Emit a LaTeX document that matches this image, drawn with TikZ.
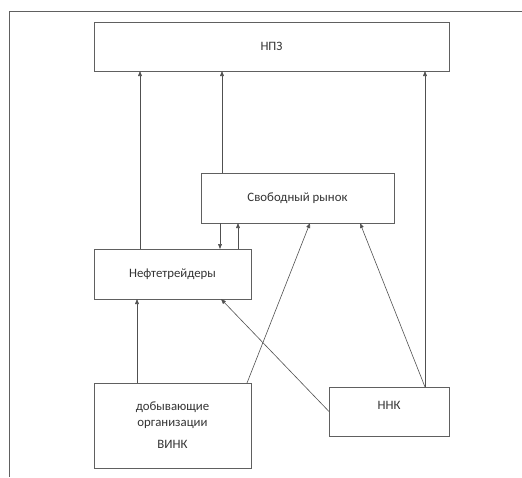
\documentclass[tikz,border=0pt]{standalone}
\usepackage{fontspec}
\setmainfont{Carlito}
\usetikzlibrary{arrows.meta}
\definecolor{linegray}{HTML}{505050}
\definecolor{boxgray}{HTML}{606060}
\definecolor{textgray}{HTML}{333333}
\begin{document}
\begin{tikzpicture}[x=1pt,y=-1pt,
  box/.style={draw=boxgray,line width=0.9pt,rectangle,inner sep=0pt,outer sep=0pt,
    text=textgray,font=\fontsize{12.8}{15.5}\selectfont,align=center},
  arr/.style={draw=linegray,line width=0.6pt,-{Triangle[length=5pt,width=3.8pt]}},
  plain/.style={draw=linegray,line width=0.6pt}]
\useasboundingbox (0,0) rectangle (522,477);
\draw[boxgray,line width=0.9pt] (522,11) -- (9,11) -- (9,477);
\node[box,minimum width=355pt,minimum height=49pt] (npz) at (271.5,46.5) {НПЗ};
\node[box,minimum width=193pt,minimum height=50pt] (rynok) at (297.5,198) {Свободный рынок};
\node[box,minimum width=157pt,minimum height=50pt] (treid) at (172.5,274) {Нефтетрейдеры};
\node[box,minimum width=157pt,minimum height=85pt] (dob) at (172.5,425.5) {добывающие\\организации\\[7pt]ВИНК};
\node[box,minimum width=120pt,text height=22.5pt,text depth=26.5pt] (nnk) at (389,411.5) {ННК};
\coordinate (c137) at (137,0);
\coordinate (c140) at (140,0);
\coordinate (c220) at (220,0);
\coordinate (c221) at (221,0);
\coordinate (c222) at (222,0);
\coordinate (c238) at (238,0);
\coordinate (c247) at (247,0);
\coordinate (c310) at (310,0);
\coordinate (c360) at (360,0);
\coordinate (c425) at (425,0);
\draw[arr] (treid.north -| c140) -- (npz.south -| c140);
\draw[arr] (rynok.north -| c222) -- (npz.south -| c222);
\draw[arr] (nnk.north -| c425) -- (npz.south -| c425);
\draw[arr] (rynok.south -| c220) -- (treid.north -| c220);
\draw[arr] (treid.north -| c238) -- (rynok.south -| c238);
\draw[arr] (dob.north -| c247) -- (rynok.south -| c310);
\draw[arr] (nnk.north -| c425) -- (rynok.south -| c360);
\draw[arr] (nnk.west) -- (treid.south -| c221);
\draw[arr] (dob.north -| c137) -- (treid.south -| c137);
\end{tikzpicture}
\end{document}
